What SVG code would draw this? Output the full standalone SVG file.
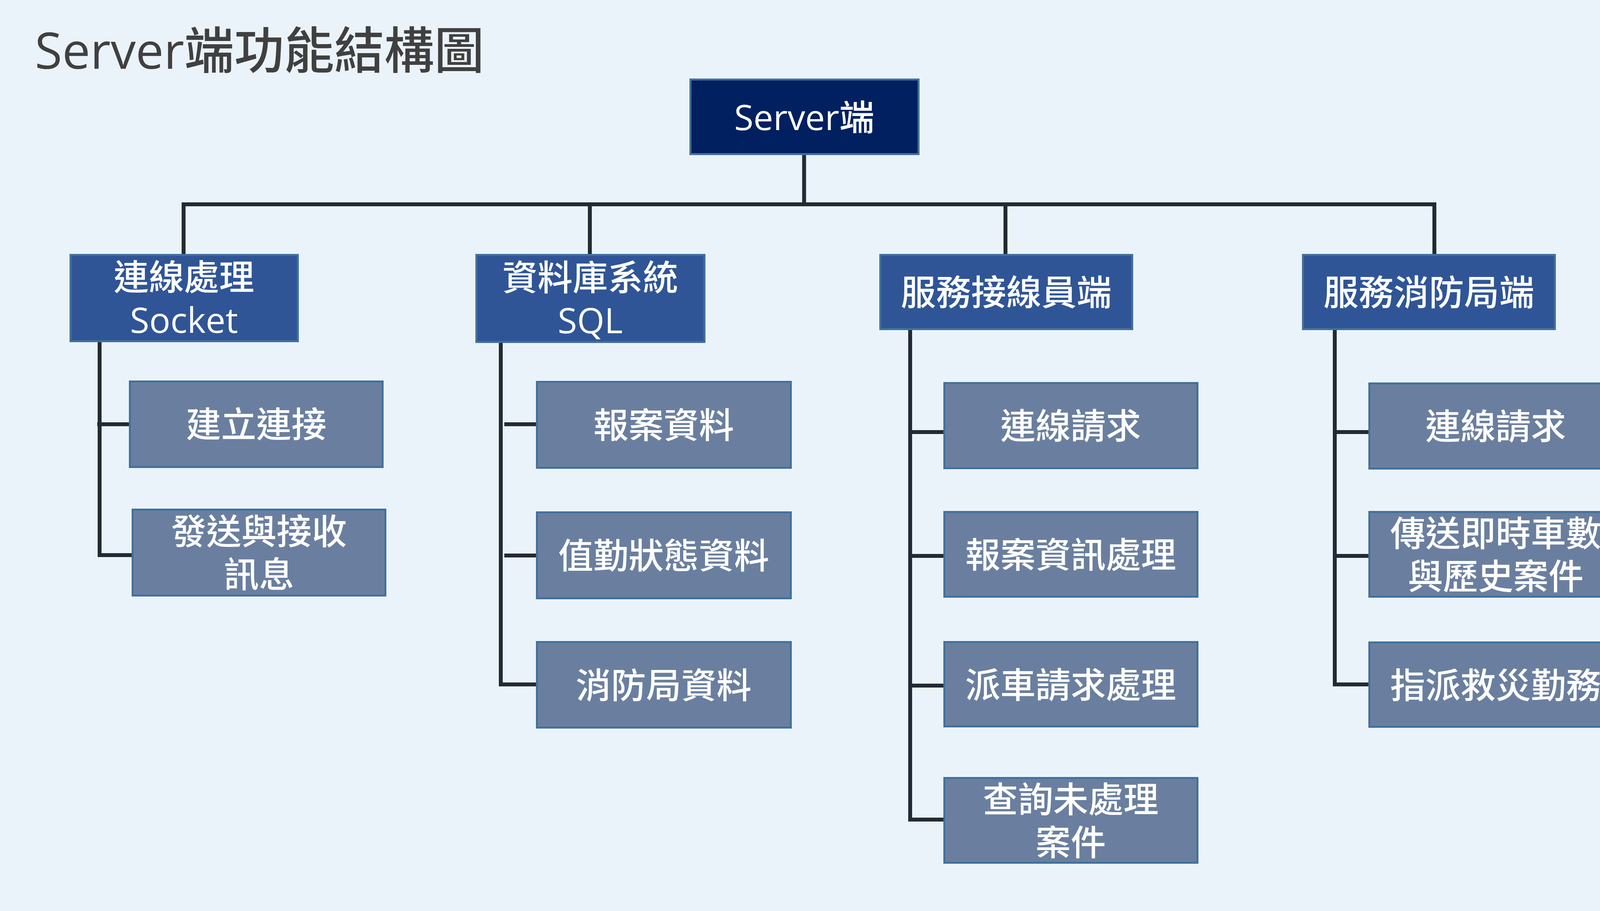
<svg xmlns="http://www.w3.org/2000/svg" width="4208" height="2332" viewBox="0 0 4208 2332">
<style>
.bg{fill:#EBF3FA}
.root{fill:#002060;stroke:#41719C;stroke-width:5}
.l1{fill:#2F5597;stroke:#41719C;stroke-width:5}
.l2{fill:#6A7F9F;stroke:#41719C;stroke-width:5}
.t{font-family:"Open Sans","Noto Sans CJK TC",sans-serif;font-size:90px;font-weight:500;fill:#FFFFFF;text-anchor:middle}
.title{font-family:"Open Sans","Noto Sans CJK TC",sans-serif;font-size:128px;font-weight:500;fill:#404040}
.ln{fill:none;stroke:#222A35;stroke-width:10;stroke-linejoin:miter;stroke-linecap:butt}
</style>
<rect class="bg" x="0" y="0" width="4208" height="2332"/>
<text class="title" x="89" y="176">Server端功能結構圖</text>

<g id="connectors">
  <path class="ln" d="M2058.5,397 V523"/>
  <path class="ln" d="M470,650 V523 H3672 V650"/>
  <path class="ln" d="M1510,523 V650"/>
  <path class="ln" d="M2574,523 V650"/>
  <path class="ln" d="M255,876 V1426"/>
  <path class="ln" d="M249,1086 H330"/>
  <path class="ln" d="M250,1421 H337"/>
  <path class="ln" d="M1282,878 V1757"/>
  <path class="ln" d="M1291,1086 H1372"/>
  <path class="ln" d="M1291,1422 H1372"/>
  <path class="ln" d="M1277,1752 H1372"/>
  <path class="ln" d="M2330,845 V2103"/>
  <path class="ln" d="M2330,1106 H2415"/>
  <path class="ln" d="M2330,1423 H2415"/>
  <path class="ln" d="M2330,1755 H2415"/>
  <path class="ln" d="M2325,2098 H2415"/>
  <path class="ln" d="M3417,845 V1757"/>
  <path class="ln" d="M3417,1106 H3503"/>
  <path class="ln" d="M3417,1423 H3503"/>
  <path class="ln" d="M3412,1752 H3503"/>
</g>

<g id="root">
  <rect class="root" x="1767.5" y="203.5" width="584" height="191"/>
  <text class="t" x="2059" y="333">Server端</text>
</g>

<g id="socket">
  <rect class="l1" x="180.5" y="652.5" width="582" height="221"/>
  <text class="t" x="471" y="742">連線處理</text>
  <text class="t" x="471" y="852">Socket</text>
</g>
<g id="sql">
  <rect class="l1" x="1219.5" y="652.5" width="584" height="223"/>
  <text class="t" x="1511" y="743">資料庫系統</text>
  <text class="t" x="1511" y="853">SQL</text>
</g>
<g id="operator">
  <rect class="l1" x="2253.5" y="652.5" width="645" height="190"/>
  <text class="t" x="2576" y="781">服務接線員端</text>
</g>
<g id="firestation">
  <rect class="l1" x="3335.5" y="652.5" width="645" height="190"/>
  <text class="t" x="3658" y="781">服務消防局端</text>
</g>

<g id="a1">
  <rect class="l2" x="332.5" y="976.5" width="647" height="219"/>
  <text class="t" x="656" y="1119">建立連接</text>
</g>
<g id="a2">
  <rect class="l2" x="339.5" y="1304.5" width="647" height="220"/>
  <text class="t" x="663" y="1393">發送與接收</text>
  <text class="t" x="663" y="1503">訊息</text>
</g>

<g id="b1">
  <rect class="l2" x="1374.5" y="977.5" width="650" height="220"/>
  <text class="t" x="1699" y="1121">報案資料</text>
</g>
<g id="b2">
  <rect class="l2" x="1374.5" y="1311.5" width="650" height="220"/>
  <text class="t" x="1699" y="1455">值勤狀態資料</text>
</g>
<g id="b3">
  <rect class="l2" x="1374.5" y="1643.5" width="650" height="219"/>
  <text class="t" x="1699" y="1787">消防局資料</text>
</g>

<g id="c1">
  <rect class="l2" x="2417.5" y="980.5" width="648" height="218"/>
  <text class="t" x="2741" y="1123">連線請求</text>
</g>
<g id="c2">
  <rect class="l2" x="2417.5" y="1310.5" width="648" height="217"/>
  <text class="t" x="2741" y="1453">報案資訊處理</text>
</g>
<g id="c3">
  <rect class="l2" x="2417.5" y="1643.5" width="648" height="216"/>
  <text class="t" x="2741" y="1786">派車請求處理</text>
</g>
<g id="c4">
  <rect class="l2" x="2417.5" y="1991.5" width="648" height="217"/>
  <text class="t" x="2741" y="2079">查詢未處理</text>
  <text class="t" x="2741" y="2189">案件</text>
</g>

<g id="d1">
  <rect class="l2" x="3505.5" y="981.5" width="648" height="218"/>
  <text class="t" x="3829" y="1124">連線請求</text>
</g>
<g id="d2">
  <rect class="l2" x="3505.5" y="1310.5" width="648" height="217"/>
  <text class="t" x="3829" y="1398">傳送即時車數</text>
  <text class="t" x="3829" y="1508">與歷史案件</text>
</g>
<g id="d3">
  <rect class="l2" x="3505.5" y="1644.5" width="648" height="216"/>
  <text class="t" x="3829" y="1787">指派救災勤務</text>
</g>
</svg>
